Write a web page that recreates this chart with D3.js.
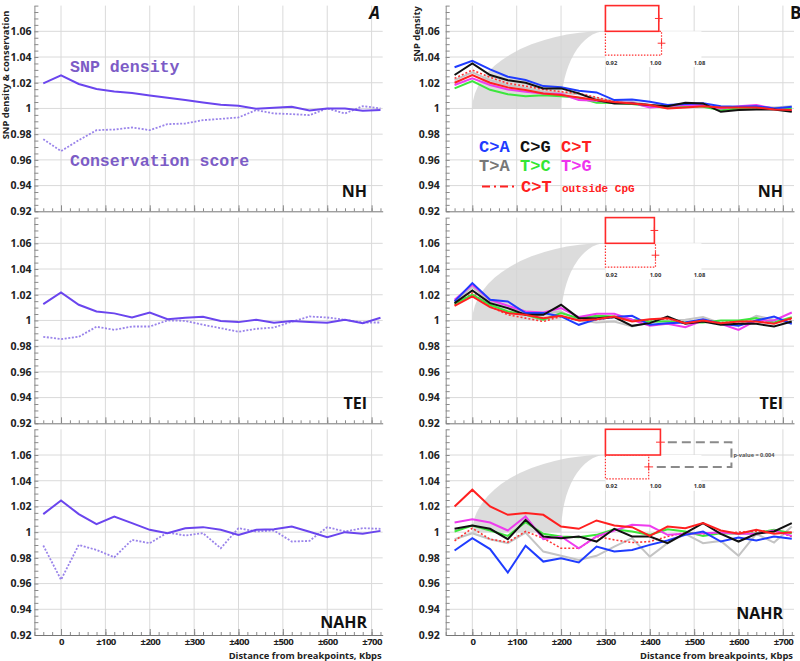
<!DOCTYPE html>
<html><head><meta charset="utf-8">
<script src="https://cdn.jsdelivr.net/npm/d3@7"></script>
<style>body{margin:0;background:#fff}svg{display:block}</style>
</head><body><svg id="c" width="800" height="661"></svg>
<script>
// ---------------- DATA ----------------
const distances = [-40,0,40,80,120,160,200,240,280,320,360,400,440,480,520,560,600,640,680,720];
const panelNames = ["NH","TEI","NAHR"];
const yTickValues = [0.92,0.94,0.96,0.98,1,1.02,1.04,1.06];
const xTickValues = [0,100,200,300,400,500,600,700];
const xTickLabels = ["0","±100","±200","±300","±400","±500","±600","±700"];

// Panel A : SNP density (solid) and conservation score (dotted)
const snpNH    = [1.0195,1.0257,1.019,1.0151,1.0132,1.012,1.0101,1.0083,1.0065,1.0047,1.0029,1.0021,0.9997,1.0005,1.0013,0.9984,1.0,1.0,0.9982,0.9987];
const consNH   = [0.9761,0.9668,0.9753,0.9831,0.9836,0.9852,0.9831,0.9878,0.9883,0.9909,0.9919,0.993,0.9987,0.9961,0.9956,0.9948,1.0,0.9961,1.0018,1.0];
const snpTEI   = [1.0127,1.0218,1.0122,1.007,1.0055,1.0023,1.0062,1.001,1.0021,1.0029,0.9995,0.9987,1.0005,0.9982,0.9995,0.9987,0.9982,1.0005,0.9979,1.0021];
const consTEI  = [0.9873,0.9855,0.9873,0.9951,0.9927,0.9953,0.9953,1.0,0.9997,0.9966,0.994,0.9912,0.9935,0.9945,0.999,1.0031,1.0023,1.0005,0.9984,0.9984];
const snpNAHR  = [1.014,1.0247,1.014,1.0062,1.0122,1.007,1.0018,0.9992,1.0031,1.0039,1.0018,0.9979,1.0018,1.0023,1.0044,1.0003,0.9961,1.0,0.9987,1.001];
const consNAHR = [0.9896,0.963,0.9901,0.9862,0.9805,0.994,0.9914,0.9997,0.9974,0.9992,0.9875,1.0031,1.0005,1.0013,0.9927,0.9932,1.0039,1.0005,1.0031,1.0026];

// Panel B : SNP density by substitution type
const caNH  = [1.032,1.037,1.0304,1.0247,1.0221,1.0174,1.0164,1.0138,1.0125,1.0065,1.007,1.0052,1.0026,1.0034,1.004,1.0018,1.0013,1.0018,1.0,1.0013];
const cgNH  = [1.026,1.035,1.026,1.022,1.02,1.0156,1.0156,1.0117,1.0065,1.0039,1.0039,1.0026,1.0018,1.0044,1.0039,0.9974,0.9987,0.9992,0.9992,0.9974];
const ctNH  = [1.02,1.026,1.02,1.0164,1.0143,1.0117,1.0104,1.0086,1.0065,1.005,1.0039,1.0026,1.0,1.0008,1.0018,1.0008,1.0008,1.0008,0.9992,0.9987];
const taNH  = [1.022,1.028,1.022,1.018,1.016,1.013,1.012,1.011,1.008,1.006,1.0052,1.0026,1.0018,1.0026,1.0026,1.0,1.0008,1.0013,1.0008,1.0018];
const tcNH  = [1.0156,1.0212,1.0145,1.011,1.0094,1.0103,1.0095,1.0083,1.0045,1.0042,1.0034,1.0018,1.0008,1.0018,1.0013,0.9987,1.0,1.0008,1.0,1.0];
const tgNH  = [1.0182,1.0234,1.0182,1.0148,1.013,1.0117,1.0112,1.0065,1.006,1.0047,1.0044,1.0008,1.0018,1.0026,1.0026,1.0,1.0018,1.0026,1.0,0.9982];
const ctoNH = [1.0234,1.0299,1.0242,1.0195,1.0174,1.0148,1.013,1.0117,1.0086,1.005,1.004,1.0026,1.0005,1.001,1.0018,1.0005,1.0008,1.0005,0.9995,0.999];

const caTEI  = [1.0148,1.0291,1.0161,1.0148,1.0057,1.0057,1.0031,0.9966,1.001,1.0026,1.0036,0.9966,0.9979,0.9984,1.001,0.9974,0.9958,1.0,1.0031,0.9974];
const cgTEI  = [1.0135,1.0234,1.0135,1.0096,1.0044,1.0044,1.0122,1.0018,1.0018,1.0026,0.9958,0.9979,1.0031,0.9974,0.9992,0.9966,0.9974,0.9974,0.9953,0.9992];
const ctTEI  = [1.0114,1.0187,1.0104,1.0057,1.0044,1.0018,1.0036,1.0,1.001,1.0031,0.9992,1.001,1.0018,0.9979,1.0,0.9979,0.9992,0.9992,0.9974,1.0018];
const taTEI  = [1.0148,1.026,1.0148,1.0096,1.007,1.0057,1.007,1.0,0.9984,0.9992,0.9953,0.9984,1.0,1.0005,1.0026,0.9979,0.9966,1.0036,1.0005,0.9974];
const tcTEI  = [1.013,1.02,1.0122,1.007,1.0044,1.0005,1.0057,1.0018,1.0036,1.0031,1.0005,0.9992,0.9992,0.9984,0.9984,1.0,1.0,1.0018,0.9984,1.0026];
const tgTEI  = [1.0161,1.0278,1.0161,1.0114,1.007,1.0062,1.0096,1.0026,1.0052,1.0052,1.0005,0.9958,0.9974,0.9948,1.0,0.9974,0.9927,1.0,1.0,1.0062];
const ctoTEI = [1.0122,1.0213,1.0109,1.0044,1.0018,0.9992,1.0031,1.0,1.0005,1.0026,0.9995,1.0005,1.0013,0.9984,1.0,0.9984,0.9992,0.9995,0.998,1.001];

const caNAHR  = [0.9857,0.9953,0.9868,0.9686,0.9894,0.9771,0.9797,0.9764,0.9888,0.9849,0.9862,0.9901,0.9935,0.9979,1.0005,0.9927,0.9958,0.9935,0.9966,0.9948];
const cgNAHR  = [1.0026,1.0052,1.0026,0.9945,1.0096,0.9966,0.9953,0.9966,0.9927,1.0026,0.9966,0.9966,0.9914,0.9992,1.007,0.9987,0.9927,0.9987,1.0005,1.007];
const ctNAHR  = [1.02,1.033,1.02,1.0135,1.0148,1.0135,1.0044,1.0026,1.0091,1.0052,1.0039,0.9971,1.0044,1.0031,1.007,1.0013,0.9987,1.0018,0.9987,1.0];
const taNAHR  = [0.9945,0.9992,0.9945,0.9914,0.9997,0.9849,0.9816,0.9784,0.9816,0.9888,0.9953,0.981,0.9914,0.9987,0.9914,0.9932,0.9816,0.9987,0.9919,1.0044];
const tcNAHR  = [1.0005,1.0052,1.0013,0.9971,1.0078,0.9987,0.9966,0.9961,0.9979,1.0023,1.0005,0.9979,1.0023,1.0005,0.9971,0.9992,0.9987,0.9992,1.0018,0.9992];
const tgNAHR  = [1.0075,1.0101,1.0075,1.0013,1.0122,0.9945,0.9966,0.9875,0.9966,1.0013,1.0057,1.0049,0.9979,0.9987,0.9992,0.9997,0.9987,0.9987,1.0013,0.9971];
const ctoNAHR = [0.9932,1.0031,0.9945,0.9922,1.0005,0.9953,0.9875,0.9875,0.9966,0.994,0.9919,0.9927,0.9966,0.9997,0.9987,0.9987,1.0,1.0005,1.0013,0.9966];

// insets: C>T vs C>T outside CpG
const insetCT  = [1.017, 1.009, 1.020];
const insetCTo = [1.022, 1.011, 0.9987];
const insetErr = [0.007, 0.007, 0.008];
const insetTicks = [0.92, 1.00, 1.08];
const insetTickLabels = ["0.92","1.00","1.08"];
const pValueText = "p-value = 0.004";

const legendLabels = ["C>A","C>G","C>T","T>A","T>C","T>G","C>T"];

// ---------------- DRAW ----------------
const svg = d3.select("#c");
const panelTop = [5.6, 217.6, 429.3], panelH = 205.7;
const xL = d3.scaleLinear().domain([-60,725]).range([34.4,382.7]);
const xR = d3.scaleLinear().domain([-60,725]).range([445.7,794]);
const fmtY = v => v === 1 ? "1" : d3.format(".2f")(v);
const sans = "'Open Sans', 'DejaVu Sans', sans-serif";
const mono = "'Courier New', 'Liberation Mono', monospace";
const gridCol = "#dadada", axisCol = "#8a8a8a";
const minorY = d3.range(0, 33).map(i => 0.92 + i*0.005);
const minorX = d3.range(0, 40).map(i => -60 + i*20);

const seriesB = [
  {key:"ta", color:"#c4c4c4", dash:null, w:2},
  {key:"cto", color:"#ff3535", dash:"2,2", w:1.6},
  {key:"tc", color:"#3de63d", dash:null, w:2},
  {key:"tg", color:"#ee3cee", dash:null, w:2},
  {key:"ca", color:"#1f3cff", dash:null, w:2},
  {key:"cg", color:"#111111", dash:null, w:2},
  {key:"ct", color:"#ff2020", dash:null, w:2}
];
const dataB = [
  {ca:caNH, cg:cgNH, ct:ctNH, ta:taNH, tc:tcNH, tg:tgNH, cto:ctoNH},
  {ca:caTEI, cg:cgTEI, ct:ctTEI, ta:taTEI, tc:tcTEI, tg:tgTEI, cto:ctoTEI},
  {ca:caNAHR, cg:cgNAHR, ct:ctNAHR, ta:taNAHR, tc:tcNAHR, tg:tgNAHR, cto:ctoNAHR}
];
const dataA = [[snpNH,consNH],[snpTEI,consTEI],[snpNAHR,consNAHR]];

function frame(g, x, y, top) {
  const bottom = top + panelH;
  g.append("g").selectAll("line").data(yTickValues.filter(v => v > 0.92)).join("line")
    .attr("x1", x.range()[0]).attr("x2", x.range()[1])
    .attr("y1", d => y(d)).attr("y2", d => y(d))
    .attr("stroke", gridCol).attr("stroke-width", 1);
  g.append("g").selectAll("line").data(xTickValues).join("line")
    .attr("x1", d => x(d)).attr("x2", d => x(d))
    .attr("y1", top).attr("y2", bottom)
    .attr("stroke", gridCol).attr("stroke-width", 1);
}

function axes(g, x, y, top, isBottom, labelEnd) {
  const bottom = top + panelH;
  const x0 = x.range()[0];
  const ym = g.append("g").attr("transform", `translate(${x0},0)`)
    .call(d3.axisRight(y).tickValues(minorY).tickSize(4).tickSizeOuter(0).tickFormat(""));
  ym.selectAll("line").attr("stroke", axisCol);
  ym.select(".domain").attr("stroke", axisCol);
  const yl = g.append("g").attr("transform", `translate(${x0},0)`)
    .call(d3.axisLeft(y).tickValues(yTickValues).tickSize(0).tickPadding(labelEnd).tickFormat(fmtY));
  yl.select(".domain").remove();
  yl.selectAll("text").attr("font-family", sans).attr("font-weight", "bold")
    .attr("font-size", "10.5px").attr("fill", "#222");
  const xm = g.append("g").attr("transform", `translate(0,${bottom})`)
    .call(d3.axisTop(x).tickValues(minorX).tickSize(3).tickSizeOuter(0).tickFormat(""));
  xm.selectAll("line").attr("stroke", axisCol);
  xm.select(".domain").attr("stroke", "#777");
  const xM = g.append("g").attr("transform", `translate(0,${bottom})`)
    .call(d3.axisTop(x).tickValues(xTickValues).tickSize(6).tickFormat(""));
  xM.select(".domain").remove();
  xM.selectAll("line").attr("stroke", axisCol);
  if (isBottom) {
    const xl = g.append("g").attr("transform", `translate(0,${bottom})`)
      .call(d3.axisBottom(x).tickValues(xTickValues).tickSize(0).tickPadding(3.5)
        .tickFormat((d,i) => xTickLabels[i]));
    xl.select(".domain").remove();
    xl.selectAll("text").attr("font-family", sans).attr("font-weight", "bold")
      .attr("font-size", "9.6px").attr("letter-spacing", "-0.6px").attr("fill", "#222");
    g.append("text").attr("x", x.range()[1] - 1).attr("y", 659)
      .attr("text-anchor", "end").attr("font-family", sans).attr("font-weight", "bold")
      .attr("font-size", "9.4px").attr("fill", "#222")
      .text("Distance from breakpoints, Kbps");
  }
}

const lineGen = (x, y) => d3.line().x((d,i) => x(distances[i])).y(d => y(d));

// Panel A
const nameBaseA = [197, 409, 628];
const nameBaseB = [197, 409, 619];
panelNames.forEach((nm, p) => {
  const top = panelTop[p];
  const y = d3.scaleLinear().domain([0.92,1.08]).range([top + panelH, top]);
  const g = svg.append("g");
  frame(g, xL, y, top);
  const [snp, cons] = dataA[p];
  g.append("path").datum(cons).attr("d", lineGen(xL, y)).attr("fill", "none")
    .attr("stroke", "#9a84ea").attr("stroke-width", 1.8).attr("stroke-dasharray", "2,1.6");
  g.append("path").datum(snp).attr("d", lineGen(xL, y)).attr("fill", "none")
    .attr("stroke", "#6a45ee").attr("stroke-width", 2);
  axes(g, xL, y, top, p === 2, 3);
  g.append("text").attr("x", 367).attr("y", nameBaseA[p]).attr("text-anchor", "end")
    .attr("font-family", sans).attr("font-weight", "bold").attr("font-size", "16px")
    .attr("fill", "#111").text(nm);
  if (p === 0) {
    g.append("text").attr("x", 70).attr("y", 72).attr("font-family", mono)
      .attr("font-weight", "bold").attr("font-size", "16.6px").attr("fill", "#7c5cc6").text("SNP density");
    g.append("text").attr("x", 70).attr("y", 166).attr("font-family", mono)
      .attr("font-weight", "bold").attr("font-size", "16.6px").attr("fill", "#7c5cc6").text("Conservation score");
  }
});
svg.append("text").attr("transform", "translate(9,75) rotate(-90)").attr("text-anchor", "middle")
  .attr("font-family", sans).attr("font-weight", "bold").attr("font-size", "9.4px").attr("fill", "#222")
  .text("SNP density & conservation");
svg.append("text").attr("x", 380).attr("y", 19).attr("text-anchor", "end")
  .attr("font-family", sans).attr("font-weight", "bold").attr("font-style", "italic")
  .attr("font-size", "17px").attr("fill", "#111").text("A");

// Panel B
panelNames.forEach((nm, p) => {
  const top = panelTop[p];
  const y = d3.scaleLinear().domain([0.92,1.08]).range([top + panelH, top]);
  const g = svg.append("g");
  frame(g, xR, y, top);
  const xa = xR(0), xb = xR(200), xc = xR(300), ya = y(1.0), yc = y(1.06);
  g.append("path")
    .attr("d", `M${xa},${ya} A${xc-xa},${ya-yc} 0 0 1 ${xc},${yc} A${xc-xb},${ya-yc} 0 0 0 ${xb},${ya} Z`)
    .attr("fill", "#d3d3d3").attr("opacity", 0.8);
  seriesB.forEach(s => {
    g.append("path").datum(dataB[p][s.key]).attr("d", lineGen(xR, y)).attr("fill", "none")
      .attr("stroke", s.color).attr("stroke-width", s.w)
      .attr("stroke-dasharray", s.dash);
  });
  axes(g, xR, y, top, p === 2, 6);
  g.append("text").attr("x", 783).attr("y", nameBaseB[p]).attr("text-anchor", "end")
    .attr("font-family", sans).attr("font-weight", "bold").attr("font-size", "16px")
    .attr("fill", "#111").text(nm);

  // inset
  const ix = d3.scaleLinear().domain([0.92,1.08]).range([xR(300), xR(300) + 88]);
  const yTop = y(1.08), yMid = y(1.06), yBot = y(1.0415);
  g.append("rect").attr("x", ix(0.92)).attr("y", yMid).attr("width", 96).attr("height", yBot - yMid + 12)
    .attr("fill", "#fff");
  g.append("rect").attr("x", ix(0.92)).attr("y", yMid).attr("width", ix(insetCTo[p]) - ix(0.92))
    .attr("height", yBot - yMid).attr("fill", "#fff").attr("stroke", "#ff3030")
    .attr("stroke-width", 1.2).attr("stroke-dasharray", "1.5,1.5");
  g.append("rect").attr("x", ix(0.92)).attr("y", yTop).attr("width", ix(insetCT[p]) - ix(0.92))
    .attr("height", yMid - yTop).attr("fill", "#fff").attr("stroke", "#ff2a2a").attr("stroke-width", 1.6);
  [[insetCT[p], (yTop + yMid) / 2], [insetCTo[p], (yMid + yBot) / 2]].forEach(([v, cy]) => {
    g.append("line").attr("x1", ix(v - insetErr[p])).attr("x2", ix(v + insetErr[p]))
      .attr("y1", cy).attr("y2", cy).attr("stroke", "#ff3030").attr("stroke-width", 1);
    g.append("line").attr("x1", ix(v)).attr("x2", ix(v))
      .attr("y1", cy - 3.5).attr("y2", cy + 3.5).attr("stroke", "#ff3030").attr("stroke-width", 1);
  });
  g.append("g").selectAll("text").data(insetTicks).join("text")
    .attr("x", d => ix(d) + 6).attr("y", yBot + 9.5).attr("text-anchor", "middle")
    .attr("font-family", sans).attr("font-weight", "bold").attr("font-size", "5.8px").attr("fill", "#333")
    .text((d,i) => insetTickLabels[i]);
  if (p === 2) {
    const c1 = (yTop + yMid) / 2, c2 = (yMid + yBot) / 2;
    const bx = ix(0.92) + 126;
    g.append("path")
      .attr("d", `M${ix(insetCT[p] + insetErr[p]) + 3},${c1} H${bx} V${c2} H${ix(insetCTo[p] + insetErr[p]) + 1}`)
      .attr("fill", "none").attr("stroke", "#8a8a8a").attr("stroke-width", 2).attr("stroke-dasharray", "9,5");
    g.append("text").attr("x", bx + 2).attr("y", (c1 + c2) / 2 + 2).attr("font-family", sans)
      .attr("font-weight", "bold").attr("font-size", "5.6px").attr("fill", "#555").text(pValueText);
  }

  if (p === 0) {
    const legend = [
      {t:legendLabels[0], c:"#1f3cff", x:479, y:151.5},
      {t:legendLabels[1], c:"#111111", x:520, y:151.5},
      {t:legendLabels[2], c:"#ff2020", x:561, y:151.5},
      {t:legendLabels[3], c:"#777777", x:479, y:171},
      {t:legendLabels[4], c:"#33e633", x:520, y:171},
      {t:legendLabels[5], c:"#ee33ee", x:561, y:171},
      {t:legendLabels[6], c:"#ff2020", x:521, y:191.7}
    ];
    g.append("g").selectAll("text").data(legend).join("text")
      .attr("x", d => d.x).attr("y", d => d.y).attr("fill", d => d.c)
      .attr("font-family", mono).attr("font-weight", "bold").attr("font-size", "17px").text(d => d.t);
    g.append("line").attr("x1", 482).attr("x2", 518).attr("y1", 186.5).attr("y2", 186.5)
      .attr("stroke", "#ff2020").attr("stroke-width", 2).attr("stroke-dasharray", "8,4,2,4");
    g.append("text").attr("x", 562).attr("y", 191.7).attr("fill", "#ff2020")
      .attr("font-family", mono).attr("font-weight", "bold").attr("font-size", "11px").text("outside CpG");
  }
});
svg.append("text").attr("transform", "translate(420,34) rotate(-90)").attr("text-anchor", "middle")
  .attr("font-family", sans).attr("font-weight", "bold").attr("font-size", "9.4px").attr("fill", "#222")
  .text("SNP density");
svg.append("text").attr("x", 790).attr("y", 19)
  .attr("font-family", sans).attr("font-weight", "bold")
  .attr("font-size", "17px").attr("fill", "#111").text("B");
</script></body></html>
